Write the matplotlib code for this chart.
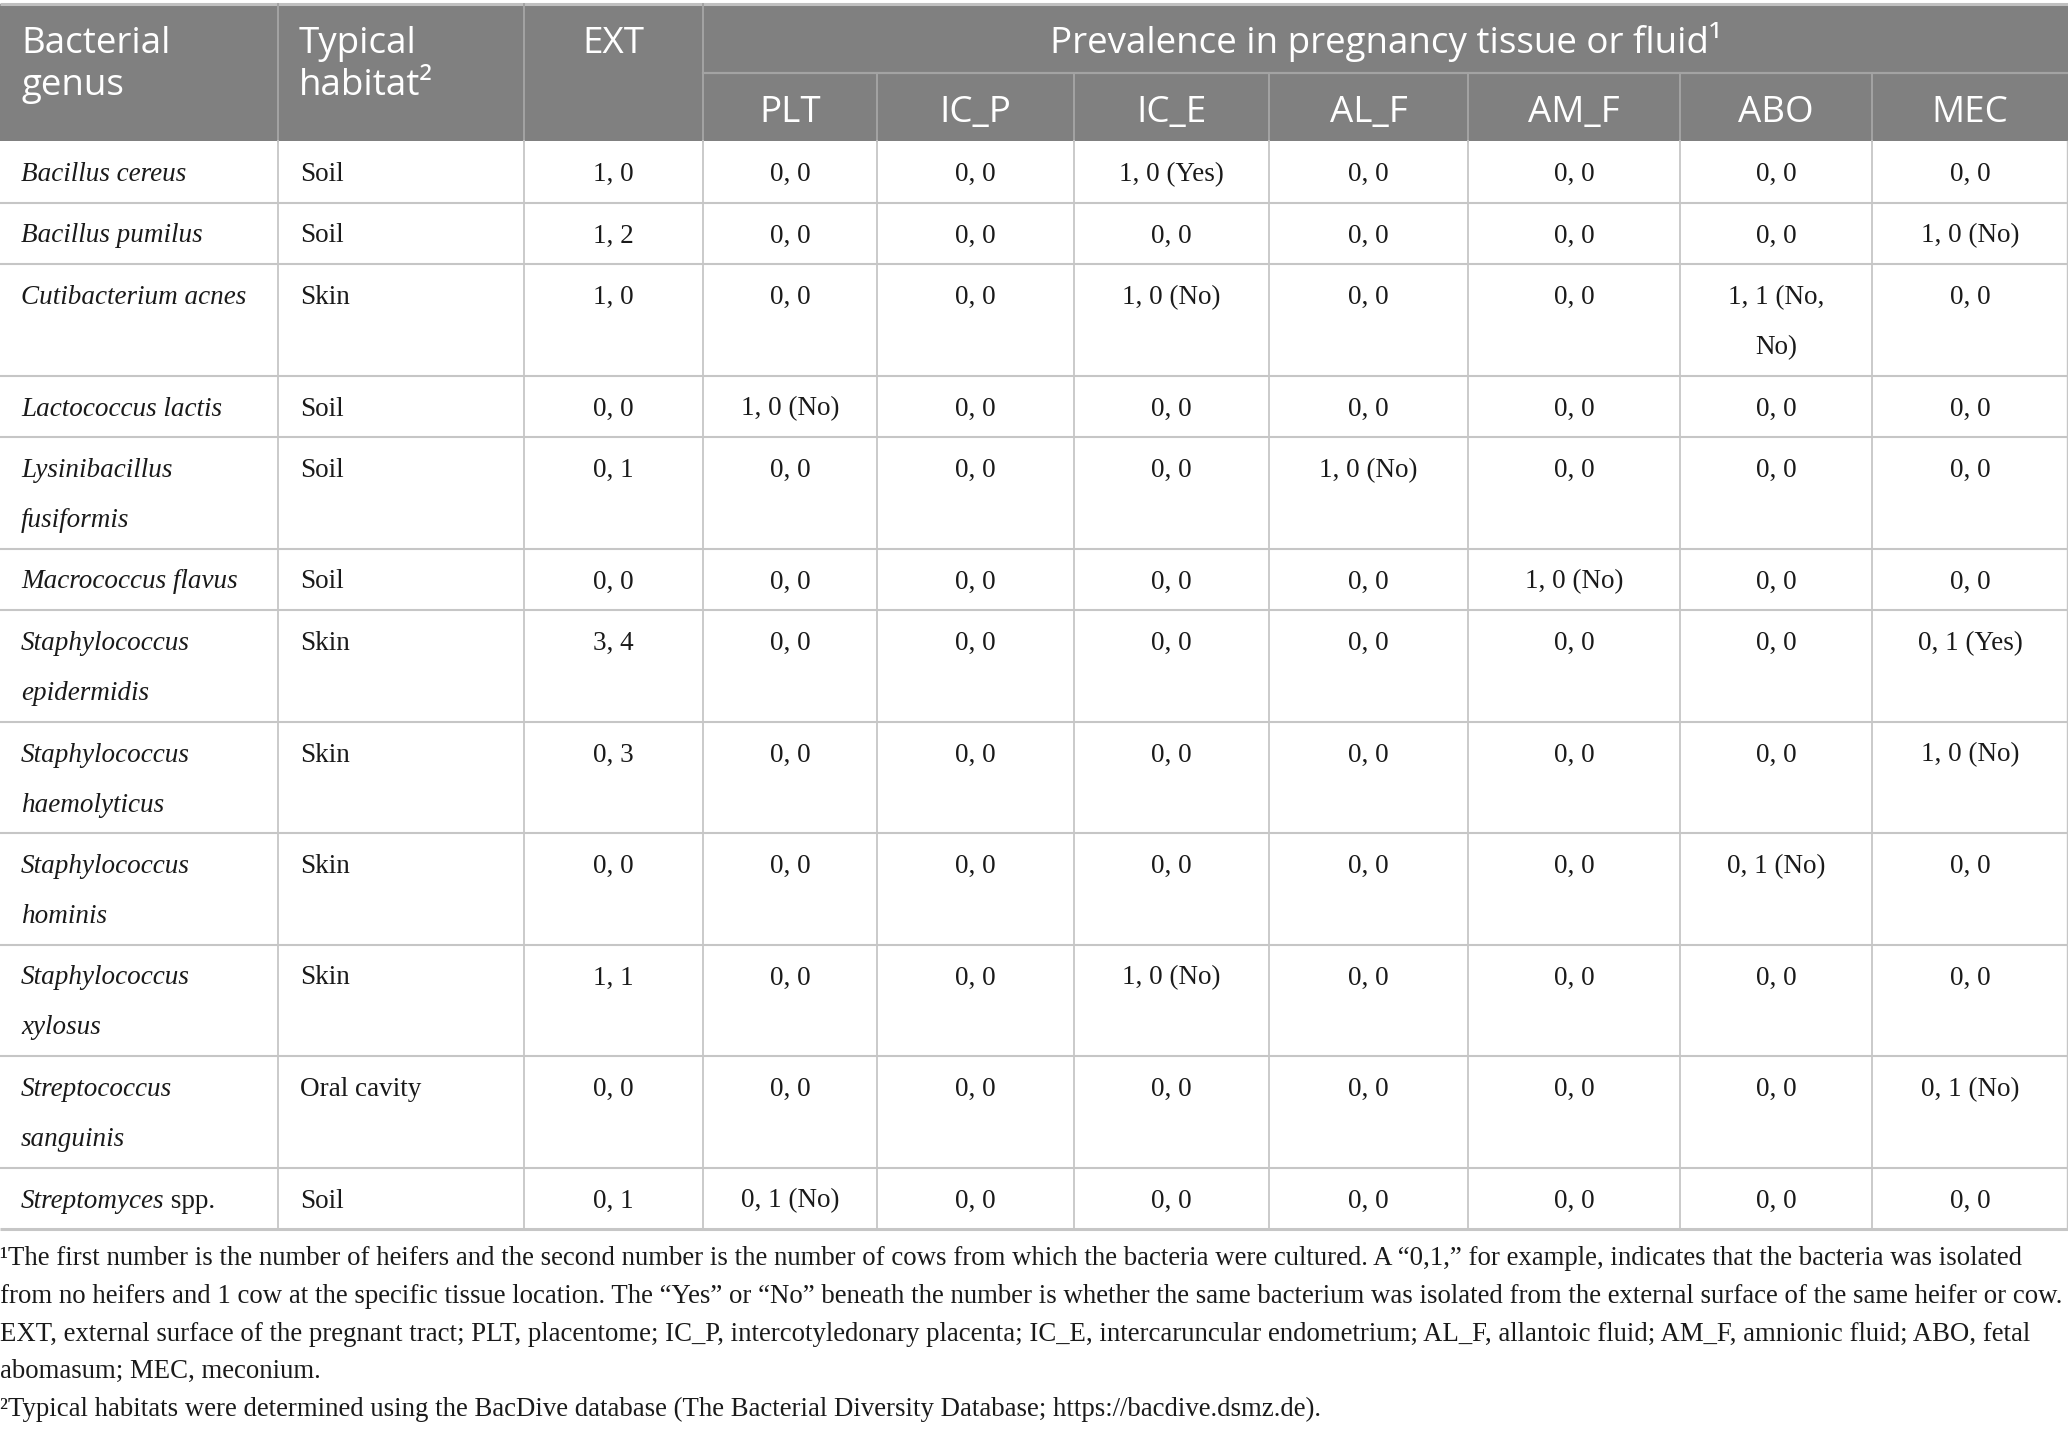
import numpy as np
import matplotlib
matplotlib.use('Agg')
import matplotlib.pyplot as plt
from matplotlib.patches import Rectangle

W, H = 2068, 1430

# table content
genus = ['Bacillus cereus', 'Bacillus pumilus', 'Cutibacterium acnes', 'Lactococcus lactis',
         'Lysinibacillus\nfusiformis', 'Macrococcus flavus', 'Staphylococcus\nepidermidis',
         'Staphylococcus\nhaemolyticus', 'Staphylococcus\nhominis', 'Staphylococcus\nxylosus',
         'Streptococcus\nsanguinis', 'Streptomyces']
genus_suffix = ['', '', '', '', '', '', '', '', '', '', '', ' spp.']
habitat = ['Soil', 'Soil', 'Skin', 'Soil', 'Soil', 'Soil', 'Skin', 'Skin', 'Skin', 'Skin',
           'Oral cavity', 'Soil']
ext = ['1, 0', '1, 2', '1, 0', '0, 0', '0, 1', '0, 0', '3, 4', '0, 3', '0, 0', '1, 1', '0, 0', '0, 1']
plt_col = ['0, 0', '0, 0', '0, 0', '1, 0 (No)', '0, 0', '0, 0', '0, 0', '0, 0', '0, 0', '0, 0',
           '0, 0', '0, 1 (No)']
ic_p = ['0, 0', '0, 0', '0, 0', '0, 0', '0, 0', '0, 0', '0, 0', '0, 0', '0, 0', '0, 0', '0, 0', '0, 0']
ic_e = ['1, 0 (Yes)', '0, 0', '1, 0 (No)', '0, 0', '0, 0', '0, 0', '0, 0', '0, 0', '0, 0',
        '1, 0 (No)', '0, 0', '0, 0']
al_f = ['0, 0', '0, 0', '0, 0', '0, 0', '1, 0 (No)', '0, 0', '0, 0', '0, 0', '0, 0', '0, 0',
        '0, 0', '0, 0']
am_f = ['0, 0', '0, 0', '0, 0', '0, 0', '0, 0', '1, 0 (No)', '0, 0', '0, 0', '0, 0', '0, 0',
        '0, 0', '0, 0']
abo = ['0, 0', '0, 0', '1, 1 (No,\nNo)', '0, 0', '0, 0', '0, 0', '0, 0', '0, 0', '0, 1 (No)',
       '0, 0', '0, 0', '0, 0']
mec = ['0, 0', '1, 0 (No)', '0, 0', '0, 0', '0, 0', '0, 0', '0, 1 (Yes)', '1, 0 (No)', '0, 0',
       '0, 0', '0, 1 (No)', '0, 0']

top_headers = ['Bacterial\ngenus', 'Typical\nhabitat\u00b2', 'EXT']
span_header = 'Prevalence in pregnancy tissue or fluid\u00b9'
sub_headers = ['PLT', 'IC_P', 'IC_E', 'AL_F', 'AM_F', 'ABO', 'MEC']

footnotes = [
    '\u00b9The first number is the number of heifers and the second number is the number of cows from which the bacteria were cultured. A \u201c0,1,\u201d for example, indicates that the bacteria was isolated',
    'from no heifers and 1 cow at the specific tissue location. The \u201cYes\u201d or \u201cNo\u201d beneath the number is whether the same bacterium was isolated from the external surface of the same heifer or cow.',
    'EXT, external surface of the pregnant tract; PLT, placentome; IC_P, intercotyledonary placenta; IC_E, intercaruncular endometrium; AL_F, allantoic fluid; AM_F, amnionic fluid; ABO, fetal',
    'abomasum; MEC, meconium.',
    '\u00b2Typical habitats were determined using the BacDive database (The Bacterial Diversity Database; https://bacdive.dsmz.de).',
]

# layout
col_w = [278, 246, 179, 174, 197, 195, 199, 212, 192, 196]
col_x = np.concatenate([[0], np.cumsum(col_w)])
head_top, head_mid, head_bot = 4, 73, 141
row_h1, line_h = 61.5, 50

header_gray = '#808080'
head_line = '#a3a3a3'
grid = '#c6c6c6'
ink = '#1a1a1a'
serif = 'Liberation Serif'
sans = 'Open Sans'
body_fs = 19.5
head_fs = 26.5
foot_fs = 19.3

fig = plt.figure(figsize=(W / 100, H / 100), dpi=100)
ax = fig.add_axes([0, 0, 1, 1])
ax.set_xlim(0, W)
ax.set_ylim(H, 0)
ax.axis('off')

# header block
ax.add_patch(Rectangle((0, head_top), W, head_bot - head_top, facecolor=header_gray, edgecolor='none'))
ax.plot([0, W], [head_top, head_top], color='#c0c0c0', lw=2.2, solid_capstyle='butt')
ax.plot([col_x[3], W], [head_mid, head_mid], color=head_line, lw=1.6)
for k in range(1, 4):
    ax.plot([col_x[k], col_x[k]], [head_top, head_bot], color=head_line, lw=1.4)
for k in range(4, len(col_x) - 1):
    ax.plot([col_x[k], col_x[k]], [head_mid, head_bot], color=head_line, lw=1.4)

for k, txt in enumerate(top_headers):
    for i, line in enumerate(txt.split('\n')):
        if k < 2:
            ax.text(col_x[k] + 21, 53 + 42 * i, line, ha='left', va='baseline',
                    color='white', fontsize=head_fs, family=sans)
        else:
            ax.text((col_x[k] + col_x[k + 1]) / 2, 53 + 42 * i, line, ha='center',
                    va='baseline', color='white', fontsize=head_fs, family=sans)
ax.text((col_x[3] + W) / 2, 53, span_header, ha='center', va='baseline', color='white',
        fontsize=head_fs, family=sans)
for k, txt in enumerate(sub_headers):
    ax.text((col_x[k + 3] + col_x[k + 4]) / 2, 122, txt, ha='center', va='baseline',
            color='white', fontsize=head_fs, family=sans)

# body
columns = [genus, habitat, ext, plt_col, ic_p, ic_e, al_f, am_f, abo, mec]
y = head_bot
for r in range(len(genus)):
    nlines = max(c[r].count('\n') + 1 for c in columns)
    h = row_h1 + line_h * (nlines - 1)
    for k, col in enumerate(columns):
        for i, line in enumerate(col[r].split('\n')):
            yb = y + 40 + line_h * i
            if k == 0:
                t = ax.text(col_x[0] + 21, yb, line, ha='left', va='baseline', fontsize=body_fs,
                            family=serif, style='italic', color=ink)
                if genus_suffix[r]:
                    ax.annotate(genus_suffix[r], xy=(1, 0), xycoords=t, ha='left', va='bottom',
                                fontsize=body_fs, family=serif, color=ink)
            elif k == 1:
                ax.text(col_x[1] + 22, yb, line, ha='left', va='baseline', fontsize=body_fs,
                        family=serif, color=ink)
            else:
                ax.text((col_x[k] + col_x[k + 1]) / 2, yb, line, ha='center', va='baseline',
                        fontsize=body_fs, family=serif, color=ink)
    y += h
    lw = 2.2 if r == len(genus) - 1 else 1.5
    ax.plot([0, W], [y, y], color=grid, lw=lw, solid_capstyle='butt')
body_bot = y
for k in range(1, len(col_x) - 1):
    ax.plot([col_x[k], col_x[k]], [head_bot, body_bot], color=grid, lw=1.3)
ax.plot([W - 1, W - 1], [head_bot, body_bot], color=grid, lw=1.0)

# footnotes
for i, line in enumerate(footnotes):
    ax.text(0, 1265 + 37.8 * i, line, ha='left', va='baseline', fontsize=foot_fs, family=serif,
            color=ink)

fig.savefig('out.png', dpi=100, facecolor='white')
